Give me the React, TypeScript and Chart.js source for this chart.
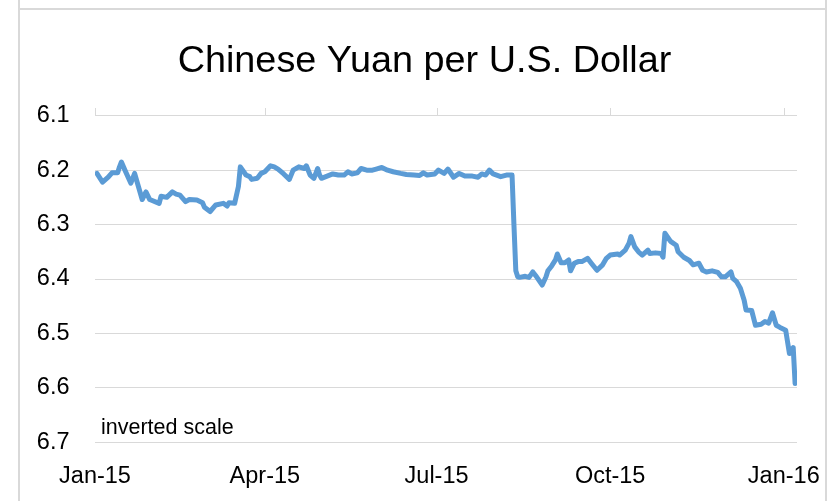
import React, { useEffect, useRef } from 'react';
import { Chart, registerables } from 'chart.js';

Chart.register(...registerables);

const dates = [
  '2015-01-02', '2015-01-05', '2015-01-08', '2015-01-10', '2015-01-13', '2015-01-14', '2015-01-15', '2015-01-17',
  '2015-01-20', '2015-01-22', '2015-01-24', '2015-01-26', '2015-01-28', '2015-01-30', '2015-02-04', '2015-02-05',
  '2015-02-08', '2015-02-11', '2015-02-13', '2015-02-15', '2015-02-18', '2015-02-20', '2015-02-24', '2015-02-27',
  '2015-02-28', '2015-03-03', '2015-03-06', '2015-03-10', '2015-03-12', '2015-03-13', '2015-03-16', '2015-03-18',
  '2015-03-19', '2015-03-22', '2015-03-24', '2015-03-25', '2015-03-28', '2015-03-30', '2015-04-01', '2015-04-04',
  '2015-04-06', '2015-04-08', '2015-04-11', '2015-04-14', '2015-04-16', '2015-04-19', '2015-04-22', '2015-04-23',
  '2015-04-25', '2015-04-27', '2015-04-29', '2015-04-30', '2015-05-01', '2015-05-04', '2015-05-07', '2015-05-10',
  '2015-05-13', '2015-05-15', '2015-05-17', '2015-05-20', '2015-05-22', '2015-05-25', '2015-05-28', '2015-05-30',
  '2015-06-02', '2015-06-05', '2015-06-08', '2015-06-12', '2015-06-15', '2015-06-19', '2015-06-22', '2015-06-24',
  '2015-06-26', '2015-06-30', '2015-07-02', '2015-07-05', '2015-07-07', '2015-07-10', '2015-07-13', '2015-07-16',
  '2015-07-20', '2015-07-23', '2015-07-25', '2015-07-27', '2015-07-29', '2015-07-31', '2015-08-04', '2015-08-07',
  '2015-08-10', '2015-08-11', '2015-08-12', '2015-08-13', '2015-08-14', '2015-08-17', '2015-08-19', '2015-08-21',
  '2015-08-23', '2015-08-26', '2015-08-28', '2015-08-29', '2015-08-31', '2015-09-02', '2015-09-03', '2015-09-05',
  '2015-09-07', '2015-09-09', '2015-09-10', '2015-09-12', '2015-09-14', '2015-09-16', '2015-09-19', '2015-09-21',
  '2015-09-24', '2015-09-27', '2015-09-29', '2015-10-01', '2015-10-05', '2015-10-06', '2015-10-09', '2015-10-11',
  '2015-10-12', '2015-10-14', '2015-10-16', '2015-10-18', '2015-10-21', '2015-10-22', '2015-10-25', '2015-10-28',
  '2015-10-29', '2015-10-30', '2015-11-02', '2015-11-05', '2015-11-06', '2015-11-09', '2015-11-12', '2015-11-14',
  '2015-11-17', '2015-11-19', '2015-11-21', '2015-11-24', '2015-11-27', '2015-11-29', '2015-12-01', '2015-12-04',
  '2015-12-05', '2015-12-07', '2015-12-09', '2015-12-11', '2015-12-12', '2015-12-15', '2015-12-17', '2015-12-20',
  '2015-12-22', '2015-12-24', '2015-12-26', '2015-12-28', '2015-12-30', '2016-01-02', '2016-01-04', '2016-01-06',
  '2016-01-07',
];

const yuanPerDollar = [
  6.206, 6.222, 6.213, 6.205, 6.205, 6.194, 6.185, 6.201,
  6.224, 6.206, 6.230, 6.254, 6.240, 6.254, 6.261, 6.248,
  6.250, 6.240, 6.244, 6.246, 6.258, 6.254, 6.255, 6.260,
  6.268, 6.276, 6.264, 6.261, 6.266, 6.260, 6.261, 6.230,
  6.194, 6.209, 6.212, 6.217, 6.215, 6.206, 6.203, 6.192,
  6.194, 6.198, 6.207, 6.217, 6.200, 6.194, 6.197, 6.192,
  6.209, 6.215, 6.197, 6.209, 6.215, 6.211, 6.207, 6.209,
  6.209, 6.203, 6.207, 6.205, 6.197, 6.200, 6.200, 6.198,
  6.195, 6.200, 6.203, 6.206, 6.208, 6.209, 6.210, 6.205,
  6.209, 6.207, 6.200, 6.206, 6.198, 6.213, 6.206, 6.211,
  6.211, 6.213, 6.207, 6.209, 6.200, 6.207, 6.212, 6.209,
  6.209, 6.300, 6.385, 6.396, 6.397, 6.395, 6.397, 6.387,
  6.396, 6.411, 6.396, 6.385, 6.376, 6.365, 6.354, 6.370,
  6.370, 6.365, 6.385, 6.371, 6.368, 6.368, 6.362, 6.371,
  6.384, 6.374, 6.362, 6.356, 6.354, 6.356, 6.347, 6.334,
  6.322, 6.341, 6.350, 6.356, 6.347, 6.353, 6.352, 6.353,
  6.360, 6.316, 6.331, 6.338, 6.350, 6.360, 6.366, 6.374,
  6.371, 6.384, 6.387, 6.385, 6.388, 6.396, 6.396, 6.387,
  6.399, 6.405, 6.417, 6.439, 6.457, 6.458, 6.485, 6.483,
  6.478, 6.481, 6.462, 6.485, 6.489, 6.494, 6.537, 6.526,
  6.592,
];

const tickDates = ['2015-01-01', '2015-04-01', '2015-07-01', '2015-10-01', '2016-01-01'];
const tickLabels = ['Jan-15', 'Apr-15', 'Jul-15', 'Oct-15', 'Jan-16'];
const yTicks = [6.1, 6.2, 6.3, 6.4, 6.5, 6.6, 6.7];
const axisStart = '2015-01-01';
const axisEnd = '2016-01-08';

const TITLE = 'Chinese Yuan per U.S. Dollar';
const NOTE = 'inverted scale';
const FONT = '"Liberation Sans", Arial, sans-serif';
const LINE_COLOR = '#5B9BD5';
const GRID_COLOR = '#D9D9D9';

const DAY_MS = 86400000;
const dayOf = (s: string) => (Date.parse(s) - Date.parse(axisStart)) / DAY_MS;

const overlayPlugin = {
  id: 'overlay',
  afterDraw(chart: any) {
    const { ctx, chartArea, scales } = chart;
    ctx.save();
    ctx.strokeStyle = GRID_COLOR;
    ctx.lineWidth = 1;
    scales.x.ticks.forEach((t: any) => {
      const px = Math.round(scales.x.getPixelForValue(t.value)) + 0.5;
      ctx.beginPath();
      ctx.moveTo(px, Math.round(chartArea.top));
      ctx.lineTo(px, Math.round(chartArea.top) - 8);
      ctx.stroke();
    });
    ctx.fillStyle = '#000';
    ctx.textAlign = 'center';
    ctx.textBaseline = 'alphabetic';
    ctx.font = `37.8px ${FONT}`;
    ctx.fillText(TITLE, chart.width / 2 + 5.5, 72);
    ctx.textAlign = 'left';
    ctx.font = `21.5px ${FONT}`;
    ctx.fillText(NOTE, chartArea.left + 6, chartArea.bottom - 8.3);
    ctx.restore();
  },
};

export default function App() {
  const canvasRef = useRef<HTMLCanvasElement | null>(null);

  useEffect(() => {
    if (!canvasRef.current) return;
    const points = dates.map((d, i) => ({ x: dayOf(d), y: yuanPerDollar[i] }));
    const chart = new Chart(canvasRef.current, {
      type: 'line',
      data: {
        datasets: [
          {
            data: points,
            borderColor: LINE_COLOR,
            borderWidth: 5,
            pointRadius: 0,
            tension: 0,
            borderJoinStyle: 'round',
            borderCapStyle: 'round',
            fill: false,
          },
        ],
      },
      options: {
        animation: false,
        responsive: false,
        devicePixelRatio: 1,
        layout: { padding: { left: 0, right: 41, top: 115.7, bottom: 0 } },
        plugins: {
          legend: { display: false },
          tooltip: { enabled: false },
          title: { display: false },
        },
        scales: {
          x: {
            type: 'linear',
            min: 0,
            max: dayOf(axisEnd),
            afterBuildTicks: (s: any) => {
              s.ticks = tickDates.map((d) => ({ value: dayOf(d) }));
            },
            afterFit: (s: any) => {
              s.height = 58.7;
              s.paddingLeft = 0;
              s.paddingRight = 0;
            },
            ticks: {
              autoSkip: false,
              maxRotation: 0,
              padding: 20.5,
              color: '#000',
              font: { family: FONT, size: 23.5 },
              callback: (_v: any, i: number) => tickLabels[i],
            },
            grid: { display: false, drawTicks: false },
            border: { display: false },
          },
          y: {
            reverse: true,
            min: 6.1,
            max: 6.7,
            afterBuildTicks: (s: any) => {
              s.ticks = yTicks.map((v) => ({ value: v }));
            },
            afterFit: (s: any) => {
              s.width = 95;
            },
            ticks: {
              padding: 25.5,
              color: '#000',
              font: { family: FONT, size: 23.5 },
              callback: (v: any) => Number(v).toFixed(1),
            },
            grid: { color: GRID_COLOR, lineWidth: 1, drawTicks: false },
            border: { display: false },
          },
        },
      },
      plugins: [overlayPlugin],
    });
    return () => chart.destroy();
  }, []);

  return (
    <div style={{ position: 'absolute', left: 0, top: 0, width: 838, height: 501, background: '#fff', overflow: 'hidden' }}>
      <div style={{ position: 'absolute', left: 18, top: 0, width: 2, height: 501, background: GRID_COLOR }} />
      <div style={{ position: 'absolute', left: 825, top: 0, width: 2, height: 501, background: GRID_COLOR }} />
      <div style={{ position: 'absolute', left: 19, top: 8, width: 807, height: 2, background: GRID_COLOR }} />
      <canvas ref={canvasRef} width={838} height={501} style={{ position: 'absolute', left: 0, top: 0 }} />
    </div>
  );
}
